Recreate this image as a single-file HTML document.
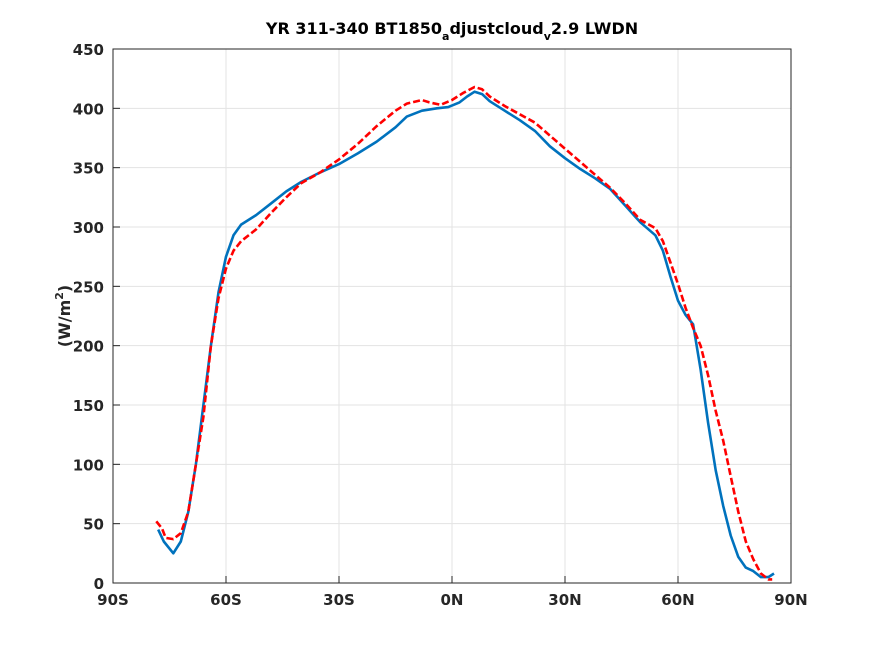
<!DOCTYPE html>
<html><head><meta charset="utf-8"><style>
body{margin:0;background:#fff;}
svg{display:block;font-family:"DejaVu Sans","Liberation Sans",sans-serif;}
</style></head><body>
<svg id="c" width="875" height="656">
<rect width="875" height="656" fill="#fff"/>
<rect x="113" y="49" width="678" height="534" fill="#fff"/>
<g id="grid"></g>
<g id="series"></g>
<g id="axes"></g>
<text x="452" y="34" text-anchor="middle" font-size="16" font-weight="bold" fill="#000">YR 311-340 BT1850<tspan font-size="11" dy="6">a</tspan><tspan dy="-6">djustcloud</tspan><tspan font-size="11" dy="6">v</tspan><tspan dy="-6">2.9 LWDN</tspan></text>
<text transform="translate(70,316) rotate(-90)" text-anchor="middle" font-size="16" font-weight="bold" fill="#262626">(W/m<tspan font-size="11" dy="-7">2</tspan><tspan dy="7">)</tspan></text>
</svg>
<script>
const xTickLabels=["90S","60S","30S","0N","30N","60N","90N"];
const xTickValues=[-90,-60,-30,0,30,60,90];
const yTickValues=[0,50,100,150,200,250,300,350,400,450];
const blueLat=[-78,-76.5,-74,-72,-70,-68,-66,-64,-62,-60,-58,-56,-52,-48,-44,-40,-35,-30,-25,-20,-15,-12,-8,-4,-1,2,4,6,8,10,14,18,22,26,30,34,38,42,46,50,54,56,58,60,62,64,66,68,70,72,74,76,78,80,82,84,85.5];
const blueVal=[45,35,25,35,60,100,150,200,245,275,293,302,310,320,330,338,346,353,362,372,384,393,398,400,401,405,410,414,412,406,398,390,381,368,358,349,341,332,318,304,293,280,258,238,226,218,180,135,95,65,40,22,13,10,5,5,8];
const redLat=[-78.5,-77,-76,-74,-72,-70,-68,-66,-64,-62,-60,-58,-56,-52,-48,-44,-40,-35,-30,-25,-20,-15,-12,-8,-6,-3,0,3,6,8,10,14,18,22,26,30,34,38,42,46,50,54,56,58,60,62,64,66,68,70,72,74,76,78,80,82,84,85];
const redVal=[52,46,38,37,42,60,100,140,200,240,265,280,288,298,312,325,337,346,357,370,385,398,404,407,405,403,407,413,418,416,410,402,395,388,377,366,355,344,333,320,306,299,288,270,252,232,215,200,175,145,120,90,60,35,20,8,3,3];
const X0=113,X1=791,Y0=583,Y1=49;
const xs=v=>X0+(v+90)/180*(X1-X0);
const ys=v=>Y0-v/450*(Y0-Y1);
const NS="http://www.w3.org/2000/svg";
function mk(t,a,p){const e=document.createElementNS(NS,t);for(const k in a)e.setAttribute(k,a[k]);p.appendChild(e);return e;}
const grid=document.getElementById('grid'),axes=document.getElementById('axes'),ser=document.getElementById('series');
xTickValues.forEach((v,i)=>{
 const g=mk('line',{x1:xs(v),x2:xs(v),y1:Y1,y2:Y0,stroke:'#e3e3e3','stroke-width':1},grid);
 
 
 const t=mk('line',{x1:xs(v),x2:xs(v),y1:Y0,y2:Y0-7,stroke:'#262626','stroke-width':1},axes);
 
 
 const l=mk('text',{x:xs(v),y:Y0+22,'text-anchor':'middle','font-size':15,'font-weight':'bold',fill:'#262626'},axes);
 l.textContent=xTickLabels[i];
 
 
});
yTickValues.forEach(v=>{
 const g=mk('line',{x1:X0,x2:X1,y1:ys(v),y2:ys(v),stroke:'#e3e3e3','stroke-width':1},grid);
 
 
 const t=mk('line',{x1:X0,x2:X0+7,y1:ys(v),y2:ys(v),stroke:'#262626','stroke-width':1},axes);
 
 
 const l=mk('text',{x:X0-9,y:ys(v)+6,'text-anchor':'end','font-size':15,'font-weight':'bold',fill:'#262626'},axes);
 l.textContent=String(v);
 
 
});
const box=mk('rect',{x:X0,y:Y1,width:X1-X0,height:Y0-Y1,fill:'none',stroke:'#262626','stroke-width':1},axes);


function line(la,va,col,dash,name){
 const d=la.map((v,i)=>(i?'L':'M')+xs(v).toFixed(1)+' '+ys(va[i]).toFixed(1)).join(' ');
 const p=mk('path',{d:d,fill:'none',stroke:col,'stroke-width':2.6,'stroke-linejoin':'round'},ser);
 if(dash)p.setAttribute('stroke-dasharray',dash);
 
 
}
line(blueLat,blueVal,'#0072bd',null,'series-blue-line');
line(redLat,redVal,'#ff0000','7 3','series-red-dashed-line');
</script>
</body></html>
